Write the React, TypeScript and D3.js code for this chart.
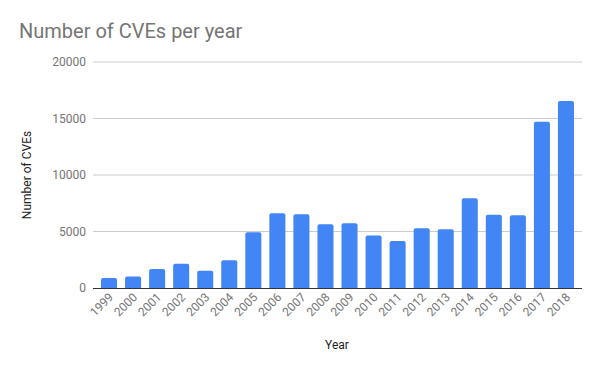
import React from "react";
import * as d3 from "d3";

const years = ["1999","2000","2001","2002","2003","2004","2005","2006","2007","2008","2009","2010","2011","2012","2013","2014","2015","2016","2017","2018"];
const cves = [894,1020,1677,2156,1527,2451,4935,6610,6520,5632,5736,4652,4155,5297,5191,7946,6480,6447,14714,16557];
const yTicks = [0,5000,10000,15000,20000];

const W = 600, H = 371;
const left = 93, right = 582, top = 62, bottom = 288;

function barPath(x: number, y: number, w: number, h: number, r: number) {
  const rr = Math.min(r, h, w / 2);
  return `M${x},${y + h}V${y + rr}Q${x},${y} ${x + rr},${y}H${x + w - rr}Q${x + w},${y} ${x + w},${y + rr}V${y + h}Z`;
}

export default function App() {
  const x = d3.scaleBand<string>().domain(years).range([left, right]).paddingInner(1 / 3).paddingOuter(1 / 3);
  const y = d3.scaleLinear().domain([0, 20000]).range([bottom, top]);
  const font = "Roboto, Arial, sans-serif";
  return (
    <svg width={W} height={H} style={{ position: "absolute", left: 0, top: 0, background: "#fff" }}>
      <rect width={W} height={H} fill="#fff" />
      <text x={19} y={38} fontFamily={font} fontSize={20} fill="#757575">Number of CVEs per year</text>
      {yTicks.map(t => (
        <g key={t}>
          {t !== 0 && <line x1={left} x2={right} y1={y(t)} y2={y(t)} stroke="#cccccc" strokeWidth={1} />}
          <text x={86} y={y(t) + 4} textAnchor="end" fontFamily={font} fontSize={12} fill="#757575">{t}</text>
        </g>
      ))}
      {years.map((yr, i) => (
        <path key={yr} d={barPath(x(yr)!, y(cves[i]), x.bandwidth(), bottom - y(cves[i]), 2)} fill="#4285f4" />
      ))}
      <line x1={left} x2={right} y1={bottom + 0.5} y2={bottom + 0.5} stroke="#333333" strokeWidth={1} />
      {years.map(yr => {
        const cx = x(yr)! + x.bandwidth() / 2 + 5;
        const cy = 298;
        return (
          <text key={yr} x={cx} y={cy} transform={`rotate(-45,${cx},${cy})`} textAnchor="end" fontFamily={font} fontSize={12} fill="#757575">{yr}</text>
        );
      })}
      <text x={337} y={349} textAnchor="middle" fontFamily={font} fontSize={12} fill="#222">Year</text>
      <text transform={`translate(31,${(top + bottom) / 2}) rotate(-90)`} textAnchor="middle" fontFamily={font} fontSize={12} fill="#222">Number of CVEs</text>
    </svg>
  );
}
